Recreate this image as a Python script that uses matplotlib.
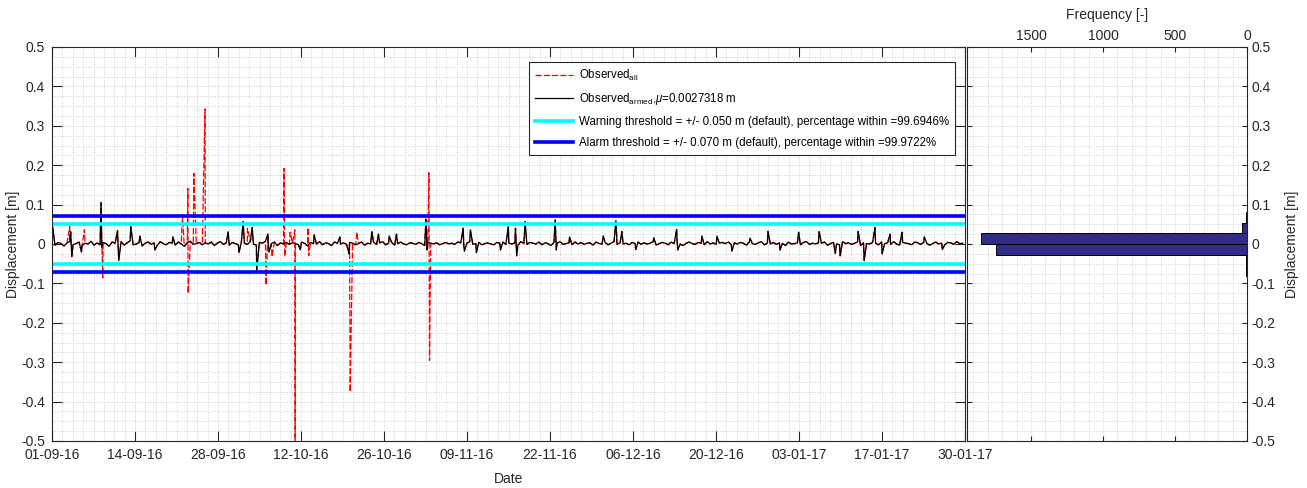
import matplotlib
matplotlib.use('Agg')
import numpy as np
import matplotlib.pyplot as plt
from matplotlib.ticker import AutoMinorLocator, MultipleLocator, FuncFormatter

plt.rcParams['font.family'] = ['Liberation Sans', 'DejaVu Sans']
plt.rcParams['mathtext.fontset'] = 'custom'
plt.rcParams['mathtext.rm'] = 'Liberation Sans'
plt.rcParams['mathtext.it'] = 'Liberation Sans:italic'

# ---- data (displacement in mm, time in days from 01-09-16) ----
span_days = 151.875
date_labels = ['01-09-16', '14-09-16', '28-09-16', '12-10-16', '26-10-16', '09-11-16',
               '22-11-16', '06-12-16', '20-12-16', '03-01-17', '17-01-17', '30-01-17']

# armed series, one value every 12 h
base_mm = [
    2, -3, 4, 1, -5, 3, 6, -2, 1, 5, -4, 2, 0, 7, -3, 3,
    -2, 4, 1, -6, 5, 2, -1, 6, -3, 3, 8, -2, 0, 4, -5, 2,
    5, -1, 3, -4, 6, 1, -2, 4, 2, -3, 5, 0, -6, 3, 7, -1,
    1, 4, -2, 3, 0, 5, -4, 2, 6, -1, 3, -3, 4, 1, -2, 5,
    2, -1, 6, 0, -3, 4, 2, 7, -2, 1, 5, -4, 3, 0, 4, -1,
    3, 1, -2, 5, 2, -5, 4, 1, 0, 6, -2, 3, 1, -4, 5, 2,
    0, 3, -1, 4, 2, -2, 1, 5, -3, 2, 0, 4, -1, 3, 6, -2,
    2, 4, -3, 1, 5, 0, -2, 3, 2, -1, 4, 1, -4, 5, 2, 0,
    3, -2, 1, 4, 0, 2, -1, 5, 3, -3, 2, 6, -1, 1, 4, -2,
    1, 3, 0, -2, 4, 2, 5, -1, 2, 0, 3, -3, 6, 1, -1, 4,
    2, 0, 5, -2, 3, 1, -4, 4, 2, 6, -1, 1, 3, -2, 5, 0,
    4, -1, 2, 3, -3, 5, 1, 0, 4, -2, 2, 6, -1, 3, 0, 2,
    -2, 4, 1, 5, -1, 3, 0, 2, 6, -3, 1, 4, 2, -2, 5, 1,
    3, 0, -4, 2, 5, 1, -1, 4, 2, -2, 6, 0, 3, -1, 2, 4,
    1, 5, -2, 3, 0, 4, 2, -3, 5, 1, -1, 3, 6, -2, 2, 0,
    4, -1, 3, 2, -4, 5, 0, 1, 3, -2, 4, 6, -1, 2, 0, 3,
    2, 5, -3, 1, 4, 0, -2, 6, 1, 3, -1, 2, 5, -4, 3, 1,
    0, 4, 2, -2, 5, 1, 3, -1, 6, 0, -3, 4, 2, 1, -2, 5,
    3, -1, 4, 2, -3, 1, 5, 0, 2, -2, 4, 3, -1, 6, 1, 2,
]

# short excursions kept in the armed series
armed_spike_days = [0.1, 3.1, 3.3, 4.9, 8.15, 8.3, 10.9, 11.1, 13.1, 14.6, 17.1, 20.1,
                    29.3, 31.1, 31.8, 33.3, 34.05, 35.9, 36.1, 41.3, 43.6, 47.9, 49.3, 49.4,
                    53.2, 54.3, 56.1, 57.3, 62.2, 62.4, 68.4, 68.6, 69.6, 70.6, 74.6, 75.9,
                    77.1, 77.3, 78.7, 83.7, 83.9, 86.1, 91.7, 93.8, 94.8, 97.1, 100.1, 103.9,
                    104.1, 108.1, 110.6, 113.1, 116.1, 119.1, 121.1, 124.2, 127.6, 130.3, 131.1, 134.1,
                    135.1, 136.9, 138.1, 139.4, 141.4, 145.1, 148.1]
armed_spike_mm = [44, 31, -32, -20, 105, -10, 34, -42, 44, 20, -15, 18,
                  31, -22, 57, 42, -66, 25, -20, -15, 23, 18, -18, -25,
                  31, 25, 20, 25, 63, -15, 40, -18, 36, -22, -15, 44,
                  40, -30, 57, 61, -15, 18, 20, 59, 32, -14, 16, 37,
                  -15, 20, 20, -18, 15, 32, -16, 30, 32, -24, -30, 32,
                  -42, 42, -25, 25, 30, 18, -14]

# outliers present only in the full observed series
outlier_days = [2.95, 5.4, 8.45, 21.7, 22.6, 22.65, 23.6, 25.45, 32.5, 35.6, 36.6,
                38.6, 38.7, 39.6, 40.4, 40.45, 42.6, 42.7, 49.6, 50.7, 62.7, 62.8]
outlier_mm = [44, 36, -86, 74, 141, -125, 179, 343, 40, -104, -32,
              192, -32, 30, 36, -560, 41, -30, -375, 30, 181, -296]

# histogram of displacement (bin edges in m, counts)
hist_edges = [-0.513, -0.486, -0.459, -0.432, -0.405, -0.378, -0.351, -0.324, -0.297,
              -0.270, -0.243, -0.216, -0.189, -0.162, -0.135, -0.108, -0.081, -0.054,
              -0.027, 0.0, 0.027, 0.054, 0.081, 0.108, 0.135, 0.162, 0.189, 0.216,
              0.243, 0.270, 0.297, 0.324, 0.351]
hist_counts = [2, 1, 1, 1, 1, 2, 1, 1, 2, 1, 1, 1, 1, 2, 2, 3, 4, 8,
               1745, 1848, 35, 8, 3, 2, 1, 3, 2, 1, 1, 1, 1, 2]

mu = 0.0027318
warn_thr = 0.050
alarm_thr = 0.070
warn_pct = 99.6946
alarm_pct = 99.9722

# ---- series assembly ----
base_days = [0.5 * i for i in range(len(base_mm))]

armed = sorted(zip(base_days + armed_spike_days, base_mm + armed_spike_mm))
t_armed = np.array([p[0] for p in armed])
y_armed = np.array([p[1] for p in armed]) / 1000.0

allobs = sorted(zip(base_days + armed_spike_days + outlier_days,
                    base_mm + armed_spike_mm + outlier_mm))
t_all = np.array([p[0] for p in allobs])
y_all = np.array([p[1] for p in allobs]) / 1000.0

# ---- figure ----
txt_col = '#262626'
grid_kw = dict(color='#cccccc', linestyle=':', linewidth=0.7)

fig = plt.figure(figsize=(13.07, 4.88), dpi=100)
ax = fig.add_axes([52 / 1307, 1 - 441 / 488, 913 / 1307, 394 / 488])
axh = fig.add_axes([967 / 1307, 1 - 441 / 488, 280 / 1307, 394 / 488])

ax.plot(t_all, y_all, color='red', lw=0.9, dashes=(5, 1.6), label='Observed$_\\mathrm{all}$')
ax.plot(t_armed, y_armed, color='black', lw=0.9,
        label='Observed$_\\mathrm{armed}$,$\\mu$=%.7f m' % mu)
ax.axhline(warn_thr, color='cyan', lw=2.6,
           label='Warning threshold = +/- %.3f m (default), percentage within =%.4f%%' % (warn_thr, warn_pct))
ax.axhline(-warn_thr, color='cyan', lw=2.6)
ax.axhline(alarm_thr, color='blue', lw=2.6,
           label='Alarm threshold = +/- %.3f m (default), percentage within =%.4f%%' % (alarm_thr, alarm_pct))
ax.axhline(-alarm_thr, color='blue', lw=2.6)

ax.set_xlim(0, span_days)
ax.set_ylim(-0.5, 0.5)
ax.set_xticks(np.linspace(0, span_days, len(date_labels)))
ax.set_xticklabels(date_labels)
ax.xaxis.set_minor_locator(AutoMinorLocator(8))
ax.yaxis.set_major_locator(MultipleLocator(0.1))
ax.yaxis.set_minor_locator(AutoMinorLocator(4))
fmt = FuncFormatter(lambda v, p: '%g' % (round(v, 1) + 0.0))
ax.yaxis.set_major_formatter(fmt)
ax.grid(which='both', **grid_kw)
ax.set_axisbelow(True)
ax.tick_params(which='major', direction='in', length=7, width=0.8, top=True, right=True,
               labelsize=10, colors=txt_col, pad=5)
ax.tick_params(which='minor', length=0)
ax.set_xlabel('Date', fontsize=10, color=txt_col, labelpad=7)
ax.set_ylabel('Displacement [m]', fontsize=10, color=txt_col)
ax.yaxis.set_label_coords(-0.035, 0.5)
for s in ax.spines.values():
    s.set_color(txt_col)
    s.set_linewidth(0.8)

leg = ax.legend(loc='upper right', bbox_to_anchor=(0.989, 0.962), borderaxespad=0,
                fontsize=8.3, fancybox=False, edgecolor=txt_col, framealpha=1,
                handlelength=3.3, borderpad=0.5, labelspacing=0.75, handletextpad=0.5)
leg.get_frame().set_linewidth(0.8)

# histogram panel
edges = np.array(hist_edges)
axh.barh(edges[:-1], hist_counts, height=np.diff(edges), align='edge',
         color='#322b89', edgecolor='black', linewidth=0.7)
axh.set_ylim(-0.5, 0.5)
axh.set_xlim(1945, 0)
axh.set_xticks([1500, 1000, 500, 0])
axh.xaxis.set_minor_locator(MultipleLocator(100))
axh.yaxis.set_major_locator(MultipleLocator(0.1))
axh.yaxis.set_minor_locator(AutoMinorLocator(4))
axh.yaxis.set_major_formatter(fmt)
axh.grid(which='both', **grid_kw)
axh.set_axisbelow(True)
axh.xaxis.tick_top()
axh.xaxis.set_label_position('top')
axh.yaxis.tick_right()
axh.yaxis.set_label_position('right')
axh.tick_params(which='major', direction='in', length=3.5, width=0.8, top=True, bottom=True,
                left=True, right=True, labelsize=10, colors=txt_col, pad=3)
axh.tick_params(which='minor', length=0)
axh.set_xlabel('Frequency [-]', fontsize=10, color=txt_col, labelpad=7)
axh.set_ylabel('Displacement [m]', fontsize=10, color=txt_col)
axh.yaxis.set_label_coords(1.136, 0.5)
for s in axh.spines.values():
    s.set_color(txt_col)
    s.set_linewidth(0.8)

fig.savefig('out.png', dpi=100)
